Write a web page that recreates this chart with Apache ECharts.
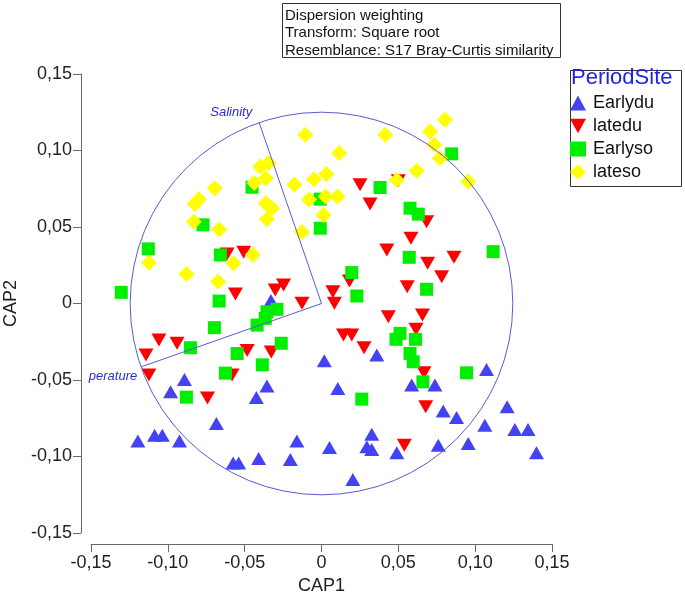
<!DOCTYPE html>
<html>
<head>
<meta charset="utf-8">
<script src="https://cdn.jsdelivr.net/npm/echarts@6/dist/echarts.min.js"></script>
<style>html,body{margin:0;padding:0;background:#fff;}#chart{width:685px;height:594px;}</style>
</head>
<body>
<div id="chart"></div>
<script>
// Series names
const seriesNames = ['Earlydu', 'latedu', 'Earlyso', 'lateso'];

// Data points [CAP1, CAP2]
const earlydu = [
  [-0.0329,0.0020],[-0.0892,-0.0496],[-0.0982,-0.0577],[-0.0355,-0.0540],[-0.0424,-0.0614],
  [0.0018,-0.0374],[-0.0684,-0.0784],[-0.1195,-0.0898],[-0.1086,-0.0861],[-0.1036,-0.0861],
  [-0.0924,-0.0898],[-0.0575,-0.1042],[-0.0539,-0.1042],[-0.0409,-0.1013],[-0.0203,-0.1020],
  [-0.0160,-0.0898],[0.0360,-0.0337],[0.0106,-0.0555],[0.0587,-0.0533],[0.0738,-0.0533],
  [0.1074,-0.0431],[0.0792,-0.0702],[0.0879,-0.0745],[0.1063,-0.0795],[0.1208,-0.0675],
  [0.1258,-0.0823],[0.1344,-0.0823],[0.1399,-0.0976],[0.0327,-0.0854],[0.0295,-0.0937],
  [0.0327,-0.0954],[0.0052,-0.0941],[0.0490,-0.0976],[0.0760,-0.0926],[0.0955,-0.0915],
  [0.0204,-0.1151]
];
const latedu = [
  [-0.0614,0.0324],[-0.0506,0.0335],[-0.0560,0.0062],[-0.0301,0.0088],[-0.0247,0.0121],
  [-0.0127,0.0001],[0.0074,0.0077],[0.0084,0.0001],[0.0182,0.0147],[0.0251,0.0776],
  [0.0500,0.0802],[0.0316,0.0651],[0.0684,0.0535],[0.0582,0.0427],[0.0425,0.0350],
  [0.0862,0.0302],[0.0691,0.0263],[0.0782,0.0175],[0.0558,0.0110],[0.0435,-0.0086],
  [0.0657,-0.0075],[0.0143,-0.0206],[0.0197,-0.0206],[0.0277,-0.0289],[0.0615,-0.0169],
  [0.0667,-0.0452],[0.0678,-0.0675],[0.0539,-0.0926],[-0.1058,-0.0239],[-0.0940,-0.0260],
  [-0.1142,-0.0337],[-0.1123,-0.0468],[-0.0484,-0.0308],[-0.0327,-0.0317],[-0.0582,-0.0468],
  [-0.0742,-0.0617]
];
const earlyso = [
  [-0.0452,0.0760],[-0.0771,0.0514],[-0.1127,0.0357],[-0.0658,0.0317],[-0.1303,0.0073],
  [-0.0666,0.0016],[-0.0008,0.0492],[-0.0008,0.0682],[0.0847,0.0978],[0.0381,0.0758],
  [0.0576,0.0623],[0.0630,0.0584],[0.1117,0.0339],[0.0571,0.0302],[0.0197,0.0202],
  [0.0684,0.0093],[0.0230,0.0049],[-0.0355,-0.0054],[-0.0290,-0.0038],[-0.0366,-0.0097],
  [-0.0419,-0.0141],[-0.0697,-0.0158],[-0.0853,-0.0289],[-0.0549,-0.0327],[-0.0625,-0.0455],
  [-0.0879,-0.0612],[-0.0385,-0.0401],[-0.0262,-0.0260],[0.0511,-0.0195],[0.0485,-0.0234],
  [0.0612,-0.0234],[0.0576,-0.0326],[0.0597,-0.0381],[0.0660,-0.0512],[0.0944,-0.0453],
  [0.0262,-0.0625]
];
const lateso = [
  [-0.0106,0.1103],[-0.0398,0.0895],[-0.0344,0.0918],[-0.0362,0.0819],[-0.0437,0.0787],
  [-0.0695,0.0754],[-0.0797,0.0681],[-0.0825,0.0651],[-0.0362,0.0656],[-0.0322,0.0623],
  [-0.0355,0.0553],[-0.0831,0.0535],[-0.0666,0.0483],[-0.0127,0.0468],[-0.0176,0.0777],
  [-0.0049,0.0812],[0.0032,0.0846],[-0.0081,0.0679],[0.0027,0.0700],[0.0013,0.0579],
  [-0.0447,0.0319],[-0.0573,0.0263],[-0.1123,0.0267],[-0.0879,0.0193],[-0.0673,0.0143],
  [0.0414,0.1103],[0.0803,0.1201],[0.0706,0.1124],[0.0734,0.1037],[0.0771,0.0950],
  [0.0115,0.0983],[0.0619,0.0867],[0.0490,0.0808],[0.0955,0.0797],[0.0105,0.0700]
];

// Vector overlay
const vectorNames = ['Salinity', 'perature'];
const vectors = [[-0.0405, 0.1181], [-0.1173, -0.0414]];
const circleRadius = 0.1245;

// Axis ticks
const axisMin = -0.15, axisMax = 0.15, axisStep = 0.05;

const infoLines = ['Dispersion weighting', 'Transform: Square root', 'Resemblance: S17 Bray-Curtis similarity'];

const FONT = 'Liberation Sans, Arial, sans-serif';
const fmt = v => Math.abs(v) < 1e-9 ? '0' : v.toFixed(2).replace('.', ',');

const chart = echarts.init(document.getElementById('chart'));

const axisCommon = {
  min: axisMin, max: axisMax, interval: axisStep,
  splitLine: {show: false},
  axisLine: {show: true, onZero: false, lineStyle: {color: '#6a6a6a', width: 1}},
  axisTick: {show: true, inside: false, length: 8, lineStyle: {color: '#6a6a6a'}},
  nameTextStyle: {fontFamily: FONT, fontSize: 18, color: '#222'},
  axisLabel: {formatter: fmt, fontFamily: FONT, fontSize: 18, color: '#222'}
};

const option = {
  animation: false,
  backgroundColor: '#fff',
  grid: {left: 91, right: 133, top: 74, bottom: 61, containLabel: false, outerBoundsMode: 'none'},
  xAxis: Object.assign({}, axisCommon, {
    type: 'value', offset: 11, name: 'CAP1', nameLocation: 'middle', nameGap: 18,
    axisLabel: Object.assign({}, axisCommon.axisLabel, {margin: 10})
  }),
  yAxis: Object.assign({}, axisCommon, {
    type: 'value', offset: 10, name: 'CAP2', nameLocation: 'middle', nameGap: 61,
    axisLabel: Object.assign({}, axisCommon.axisLabel, {margin: 9})
  }),
  legend: {
    orient: 'vertical', left: 570, top: 94, padding: 0, itemWidth: 16, itemHeight: 15, itemGap: 5,
    data: seriesNames,
    textStyle: {fontFamily: FONT, fontSize: 18, color: '#111', lineHeight: 17, padding: [0, 0, 0, 2]}
  },
  graphic: [
    {type: 'rect', left: 282, top: 3, shape: {width: 278, height: 54}, style: {fill: '#fff', stroke: '#333', lineWidth: 1}},
    {type: 'text', left: 285, top: 7, style: {text: infoLines.join('\n'), font: '15px ' + FONT, fill: '#111', lineHeight: 17.5}},
    {type: 'rect', left: 568, top: 68, shape: {width: 111, height: 116}, style: {fill: 'none', stroke: '#333', lineWidth: 1}},
    {type: 'text', left: 571, top: 67, style: {text: 'PeriodSite', font: '22px ' + FONT, fill: '#1f1fe6'}}
  ],
  series: [
    {name: 'Earlydu', type: 'scatter', data: earlydu, symbol: 'triangle', symbolSize: [15, 13],
     itemStyle: {color: '#4343f5', opacity: 1}, z: 2},
    {name: 'latedu', type: 'scatter', data: latedu, symbol: 'path://M0,0 L10,0 L5,9 Z', symbolSize: [15, 13],
     itemStyle: {color: '#ff0000', opacity: 1}, z: 3},
    {name: 'Earlyso', type: 'scatter', data: earlyso, symbol: 'rect', symbolSize: 13,
     itemStyle: {color: '#00ee00', opacity: 1}, z: 4},
    {name: 'lateso', type: 'scatter', data: lateso, symbol: 'diamond', symbolSize: 16,
     itemStyle: {color: '#ffff00', opacity: 1}, z: 5},
    {type: 'custom', name: 'circle', silent: true, clip: false, z: 6, data: [[0, 0]],
     renderItem: function (params, api) {
       const c = api.coord([0, 0]);
       const e = api.coord([circleRadius, 0]);
       return {type: 'circle', shape: {cx: c[0], cy: c[1], r: e[0] - c[0]},
               style: {fill: 'none', stroke: '#5b5bd0', lineWidth: 1}};
     }},
    {type: 'custom', name: 'vectors', silent: true, clip: false, z: 7, data: vectors,
     renderItem: function (params, api) {
       const o = api.coord([0, 0]);
       const p = api.coord([api.value(0), api.value(1)]);
       const idx = params.dataIndex;
       const lbl = idx === 0
         ? {type: 'text', x: p[0] - 28, y: p[1] - 10, style: {text: vectorNames[0], font: 'italic 13px ' + FONT, fill: '#2a2ae0', align: 'center', verticalAlign: 'middle'}}
         : {type: 'text', x: p[0] - 4, y: p[1] + 10, style: {text: vectorNames[1], font: 'italic 13px ' + FONT, fill: '#2a2ae0', align: 'right', verticalAlign: 'middle'}};
       return {type: 'group', children: [
         {type: 'line', shape: {x1: o[0], y1: o[1], x2: p[0], y2: p[1]}, style: {stroke: '#5b5bd0', lineWidth: 1}},
         lbl
       ]};
     }}
  ]
};
chart.setOption(option);
</script>
</body>
</html>
